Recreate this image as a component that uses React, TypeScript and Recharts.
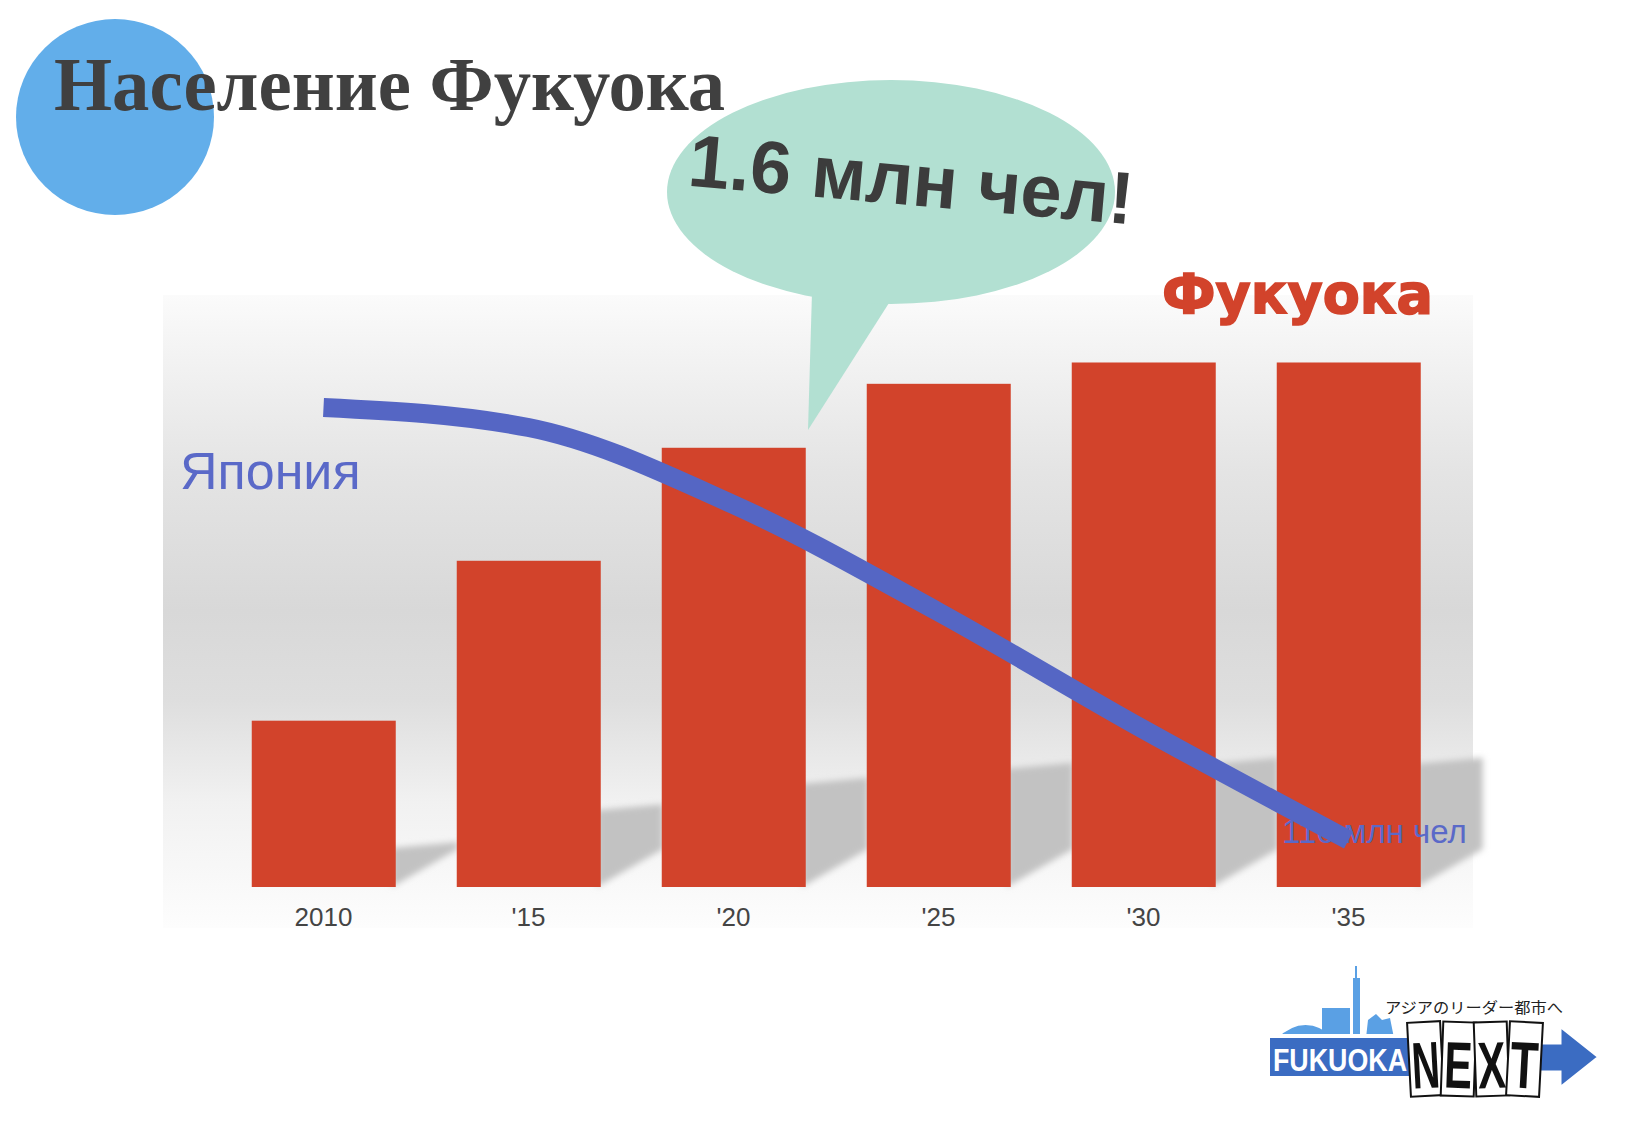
import React from "react";
import { ComposedChart, Bar, Line, XAxis, YAxis } from "recharts";

// population figures
const years = ["2010", "'15", "'20", "'25", "'30", "'35"];
const fukuokaMln = [1.458, 1.533, 1.586, 1.616, 1.626, 1.626];
const japanMln = [128.1, 127.5, 125.2, 122.0, 118.5, 115.2];

const data = years.map((year, i) => ({
  year,
  fukuoka: fukuokaMln[i],
  japan: japanMln[i],
}));

const W = 1625;
const H = 1125;
const margin = { top: 290, right: 174, bottom: 198, left: 221 };
const RED = "#d2432b";
const BLUE = "#5566c4";

const layer: React.CSSProperties = { position: "absolute", left: 0, top: 0 };

const BarWithShadow = (props: any) => {
  const { x, y, width, height, fill } = props;
  const bottom = y + height;
  const d = height * 0.235;
  const r = x + width;
  return (
    <g>
      <polygon
        points={`${r - 4},${bottom} ${r + 62},${bottom - 38} ${r + 62},${bottom - d - 6} ${r - 4},${bottom - d}`}
        fill="#c2c2c2"
        filter="url(#soft)"
      />
      <rect x={x} y={y} width={width} height={height} fill={fill} />
    </g>
  );
};

const Logo = () => (
  <g>
    {/* skyline */}
    <path d="M1276 1038 Q1305 1010 1336 1038 Z" fill="#5aa0e4" stroke="#fff" strokeWidth={2} />
    <rect x={1322} y={1008} width={28} height={30} fill="#5aa0e4" />
    <rect x={1353} y={978} width={7} height={60} fill="#5aa0e4" />
    <rect x={1355} y={966} width={2} height={14} fill="#5aa0e4" />
    <path d="M1366 1038 L1368 1020 L1376 1014 L1382 1020 L1390 1018 L1394 1038 Z" fill="#5aa0e4" />
    {/* blue band */}
    <rect x={1268} y={1036} width={146} height={42} fill="#3b6cc2" stroke="#fff" strokeWidth={4} />
    <text x={1273} y={1071} fill="#fff" fontSize={32} fontWeight="bold"
      fontFamily="'Liberation Sans Narrow', 'Liberation Sans', sans-serif" textLength={134} lengthAdjust="spacingAndGlyphs">
      FUKUOKA
    </text>
    {/* arrow */}
    <polygon points="1530,1043 1560,1043 1560,1026 1599,1057 1560,1088 1560,1072 1530,1072"
      fill="#3b6cc2" stroke="#fff" strokeWidth={3} />
    {/* NEXT cards */}
    {["N", "E", "X", "T"].map((ch, i) => {
      const cx = 1409 + i * 33;
      const rot = [-3, 2, -2, 3][i];
      return (
        <g key={ch} transform={`rotate(${rot} ${cx + 16} 1059)`}>
          <rect x={cx} y={1022} width={33} height={74} fill="#fff" stroke="#111" strokeWidth={2} />
          <text x={cx + 16.5} y={1088} textAnchor="middle" fontSize={66} fontWeight="bold"
            fontFamily="'Liberation Sans Narrow', 'Liberation Sans', sans-serif" fill="#111"
            textLength={28} lengthAdjust="spacingAndGlyphs">
            {ch}
          </text>
        </g>
      );
    })}
    <text x={1385} y={1013} fontSize={15} fill="#222" fontFamily="'Noto Sans CJK JP', sans-serif"
      textLength={178} lengthAdjust="spacingAndGlyphs">
      アジアのリーダー都市へ
    </text>
  </g>
);

export default function App() {
  return (
    <div style={{ position: "absolute", left: 0, top: 0, width: W, height: H, background: "#fff" }}>
      {/* grey panel */}
      <svg width={W} height={H} style={layer}>
        <defs>
          <linearGradient id="panelGrad" x1="0" y1="0" x2="0" y2="1">
            <stop offset="0" stopColor="#fbfbfb" />
            <stop offset="0.08" stopColor="#f4f4f4" />
            <stop offset="0.28" stopColor="#e4e4e4" />
            <stop offset="0.5" stopColor="#d8d8d8" />
            <stop offset="0.64" stopColor="#dedede" />
            <stop offset="0.8" stopColor="#f1f1f1" />
            <stop offset="1" stopColor="#fdfdfd" />
          </linearGradient>
        </defs>
        <rect x={163} y={295} width={1310} height={633} fill="url(#panelGrad)" />
      </svg>

      <div style={layer}>
        <ComposedChart width={W} height={H} data={data} margin={margin} barCategoryGap="15%">
          <defs>
            <filter id="soft" x="-20%" y="-20%" width="140%" height="140%">
              <feGaussianBlur stdDeviation="3" />
            </filter>
          </defs>
          <XAxis dataKey="year" height={40} axisLine={false} tickLine={false} tickMargin={15}
            tick={{ fill: "#444", fontSize: 26, fontFamily: "'Liberation Sans', Arial, sans-serif" }} />
          <YAxis yAxisId="f" domain={[1.38, 1.66]} hide />
          <Bar yAxisId="f" dataKey="fukuoka" fill={RED} shape={BarWithShadow} isAnimationActive={false} />
        </ComposedChart>
      </div>

      {/* labels under the Japan line */}
      <svg width={W} height={H} style={layer}>
        <text x={1282} y={843} fontSize={33} fill="#5a69c8" fontFamily="'Liberation Sans', Arial, sans-serif">
          116 млн чел
        </text>
        <text x={180} y={489} fontSize={52} fill="#5a69c8" fontFamily="'Liberation Sans', Arial, sans-serif">
          Япония
        </text>
        <text x={1162} y={313} fontSize={55} fontWeight="bold" fill={RED} stroke={RED} strokeWidth={1.6}
          fontFamily="'DejaVu Sans', sans-serif" textLength={271} lengthAdjust="spacingAndGlyphs">
          Фукуока
        </text>
      </svg>

      <div style={layer}>
        <ComposedChart width={W} height={H} data={data} margin={margin}>
          <XAxis dataKey="year" scale="band" height={40} axisLine={false} tickLine={false} tick={false} />
          <YAxis yAxisId="j" domain={[113.8, 131.6]} hide />
          <Line yAxisId="j" type="monotone" dataKey="japan" stroke={BLUE} strokeWidth={19}
            strokeLinecap="butt" dot={false} activeDot={false} isAnimationActive={false} />
        </ComposedChart>
      </div>

      {/* title, bubble, logo */}
      <svg width={W} height={H} style={{ ...layer, pointerEvents: "none" }}>
        <ellipse cx={115} cy={117} rx={99} ry={98} fill="#62aeea" />
        <polygon points="812,292 896,292 808,430" fill="#b2e0d2" />
        <ellipse cx={891} cy={192} rx={224} ry={112} fill="#b2e0d2" />
        <text x={909} y={205} textAnchor="middle" transform="rotate(5 909 205)" fontSize={74}
          fontWeight="bold" fill="#3c3c3c" fontFamily="'Liberation Sans', Arial, sans-serif">
          1.6 млн чел!
        </text>
        <text x={54} y={110} fontSize={76} fontWeight="bold" fill="#404040"
          fontFamily="'Liberation Serif', 'Times New Roman', serif" textLength={671} lengthAdjust="spacingAndGlyphs">
          Население Фукуока
        </text>
        <Logo />
      </svg>
    </div>
  );
}
